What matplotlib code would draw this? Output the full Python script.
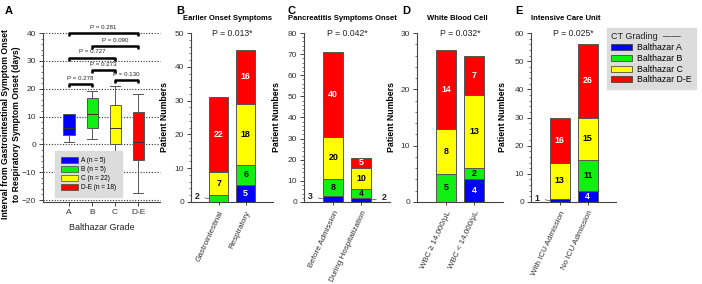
import matplotlib
matplotlib.use("Agg")
import matplotlib.pyplot as plt
from matplotlib.patches import Patch
from matplotlib.ticker import MultipleLocator, AutoMinorLocator

plt.rcParams['font.family'] = ['Liberation Sans', 'DejaVu Sans']

grade_names = ['A', 'B', 'C', 'D-E']
grade_n = [5, 5, 22, 18]
colors = ['#0000ff', '#11ee11', '#ffff00', '#ff0000']
txt_cols = ['white', 'black', 'black', 'white']

# panel A box plot values (days)
box_low = [1, 2, -4.3, -17.3]
box_q1 = [3.5, 6, 0, -5.7]
box_med = [6, 11, 6, 1]
box_q3 = [11, 16.5, 14, 11.7]
box_high = [11, 19, 21, 18]

# significance brackets: (from, to, height, label)
pairs_from = [0, 1, 2, 0, 1, 0]
pairs_to = [1, 2, 3, 2, 3, 3]
pairs_y = [21.7, 26.6, 23.0, 31.1, 35.3, 40.0]
pairs_p = ['P = 0.278', 'P = 0.273', 'P = 0.130', 'P = 0.727', 'P = 0.090', 'P = 0.281']

# panel B
onset_cats = ['Gastrointestinal', 'Respiratory']
onset_A = [0, 5]
onset_B = [2, 6]
onset_C = [7, 18]
onset_DE = [22, 16]
# panel C
panc_cats = ['Before Admission', 'During Hospitalization']
panc_A = [3, 2]
panc_B = [8, 4]
panc_C = [20, 10]
panc_DE = [40, 5]
# panel D
wbc_cats = ['WBC \u2265 14,000/\u03bcL', 'WBC < 14,000/\u03bcL']
wbc_A = [0, 4]
wbc_B = [5, 2]
wbc_C = [8, 13]
wbc_DE = [14, 7]
# panel E
icu_cats = ['With ICU Admission', 'No ICU Admission']
icu_A = [1, 4]
icu_B = [0, 11]
icu_C = [13, 15]
icu_DE = [16, 26]

W, H = 702, 284
fig = plt.figure(figsize=(W / 100, H / 100), dpi=100)

gray = '#444444'
tick_col = '#333333'


def px_axes(l, r, top=33, bot=202):
    return fig.add_axes([l / W, 1 - bot / H, (r - l) / W, (bot - top) / H])


def style(ax):
    for s in ['top', 'right']:
        ax.spines[s].set_visible(False)
    for s in ['left', 'bottom']:
        ax.spines[s].set_color(gray)
        ax.spines[s].set_linewidth(0.8)
    ax.tick_params(axis='both', colors=gray, labelcolor=tick_col, labelsize=6,
                   length=3, width=0.7, pad=2)
    ax.tick_params(which='minor', length=1.5, width=0.5, colors=gray)


# ---------- panel A ----------
axA = px_axes(43, 160)
style(axA)
stats = []
for i in range(4):
    stats.append(dict(whislo=box_low[i], q1=box_q1[i], med=box_med[i],
                      q3=box_q3[i], whishi=box_high[i], label=grade_names[i]))
bp = axA.bxp(stats, positions=range(4), widths=0.48, showfliers=False,
             patch_artist=True, capwidths=0.42,
             boxprops=dict(edgecolor='#555555', linewidth=0.7),
             medianprops=dict(color='#333333', linewidth=0.7),
             whiskerprops=dict(color='#555555', linewidth=0.7),
             capprops=dict(color='#555555', linewidth=0.7))
for patch, c in zip(bp['boxes'], colors):
    patch.set_facecolor(c)
axA.set_xlim(-1.13, 3.95)
axA.set_ylim(-20.7, 40)
axA.yaxis.set_major_locator(MultipleLocator(10))
axA.yaxis.set_minor_locator(AutoMinorLocator(5))
axA.set_xticks(range(4))
axA.set_xticklabels(grade_names)
for yv in range(-20, 41, 10):
    axA.axhline(yv, color='#333333', linestyle=(0, (1, 1.5)), linewidth=0.8,
                zorder=0, clip_on=False)
for a, b, yv, p in zip(pairs_from, pairs_to, pairs_y, pairs_p):
    axA.plot([a, a, b, b], [yv - 1.0, yv, yv, yv - 1.0], color='black',
             linewidth=1.8, clip_on=False, zorder=5, solid_capstyle='butt')
    axA.text((a + b) / 2, yv + 1.2, p, ha='center', va='bottom', fontsize=4.4,
             color='#222222', clip_on=False)
axA.set_ylabel('Interval from Gastrointestinal Symptom Onset\n'
               'to Respiratory Symptom Onset (days)', fontsize=6.2,
               fontweight='bold', linespacing=1.3)
axA.yaxis.set_label_coords(-0.185, 0.46)
axA.set_xlabel('Balthazar Grade', fontsize=6.5, color='#222222', labelpad=5)
legA = axA.legend([Patch(facecolor=c, edgecolor='#444444', linewidth=0.5) for c in colors],
                  ['%s (n = %d)' % (g, n) for g, n in zip(grade_names, grade_n)],
                  loc='lower left', bbox_to_anchor=(0.1, 0.03), fontsize=4.7,
                  frameon=True, fancybox=False, handlelength=2.6, handleheight=0.9,
                  labelspacing=0.3, borderpad=0.9, handletextpad=0.5,
                  borderaxespad=0)
legA.get_frame().set_facecolor('#dcdcdc')
legA.get_frame().set_edgecolor('#dcdcdc')
legA.get_frame().set_alpha(1)
fig.text(5 / W, 1 - 11 / H, 'A', fontsize=8, fontweight='bold', va='center')


# ---------- stacked bar panels ----------
def bar_panel(l, r, cats, segs, ymax, title, tx, pval, letter, lx,
              small_side, ylab_x):
    ax = px_axes(l, r, top=33, bot=202)
    style(ax)
    xs = list(range(len(cats)))
    bottoms = [0] * len(cats)
    for k, vals in enumerate(segs):
        ax.bar(xs, vals, width=0.71, bottom=bottoms, color=colors[k],
               edgecolor='#555555', linewidth=0.7, zorder=3)
        for i, v in enumerate(vals):
            if v == 0:
                continue
            yc = bottoms[i] + v / 2
            if v / ymax < 0.045:
                sgn = small_side[i]
                ax.annotate(str(v), xy=(xs[i] + sgn * 0.36, yc),
                            xytext=(xs[i] + sgn * 0.82, yc + ymax * 0.012),
                            fontsize=6.3, fontweight='bold', color='#222222',
                            ha='center', va='center',
                            arrowprops=dict(arrowstyle='-', color='#444444', lw=0.5,
                                            shrinkA=2, shrinkB=0))
            else:
                ax.text(xs[i], yc, str(v), ha='center', va='center', fontsize=6.4,
                        fontweight='bold', color=txt_cols[k], zorder=4)
        bottoms = [b + v for b, v in zip(bottoms, vals)]
    ax.set_xlim(-1.04, 2.02)
    ax.set_ylim(0, ymax)
    ax.yaxis.set_major_locator(MultipleLocator(10))
    ax.yaxis.set_minor_locator(AutoMinorLocator(5))
    ax.set_xticks(xs)
    ax.set_xticklabels(cats, rotation=65, ha='right', rotation_mode='anchor',
                       fontsize=5.8)
    ax.tick_params(axis='x', length=2.5, pad=3)
    ax.set_ylabel('Patient Numbers', fontsize=6.3, fontweight='bold')
    ax.yaxis.set_label_coords(ylab_x, 0.5)
    fig.text(tx / W, 1 - 19 / H, title, fontsize=5.5, fontweight='bold',
             ha='center', va='center')
    ax.text(0.5, 1.0, pval, transform=ax.transAxes, ha='center', va='center',
            fontsize=6.2, color='#222222')
    fig.text(lx / W, 1 - 11 / H, letter, fontsize=8, fontweight='bold', va='center')
    return ax


axB = bar_panel(191, 273, onset_cats, [onset_A, onset_B, onset_C, onset_DE], 50,
                'Earlier Onset Symptoms', 228, 'P = 0.013*', 'B', 176, [-1, -1], -0.27)
axC = bar_panel(304, 390, panc_cats, [panc_A, panc_B, panc_C, panc_DE], 80,
                'Pancreatitis Symptoms Onset', 342, 'P = 0.042*', 'C', 287, [-1, 1], -0.27)
axD = bar_panel(417, 503, wbc_cats, [wbc_A, wbc_B, wbc_C, wbc_DE], 30,
                'White Blood Cell', 457, 'P = 0.032*', 'D', 402, [-1, -1], -0.245)
axE = bar_panel(531, 616, icu_cats, [icu_A, icu_B, icu_C, icu_DE], 60,
                'Intensive Care Unit', 566, 'P = 0.025*', 'E', 515, [-1, -1], -0.28)

legE = fig.legend([Patch(facecolor=c, edgecolor='#333333', linewidth=0.5) for c in colors],
                  ['Balthazar ' + g for g in grade_names],
                  title='CT Grading  \u2014\u2014', alignment='left',
                  loc='upper left', bbox_to_anchor=(607 / W, 1 - 28 / H),
                  fontsize=6.3, title_fontproperties={'size': 6.5},
                  frameon=True, fancybox=False, handlelength=2.3, handleheight=0.7,
                  labelspacing=0.2, borderpad=0.5, handletextpad=0.6, borderaxespad=0)
legE.get_frame().set_facecolor('#dcdcdc')
legE.get_frame().set_edgecolor('#dcdcdc')
legE.get_frame().set_alpha(1)
legE.get_title().set_color('#222222')

fig.savefig('out.png', dpi=100)
